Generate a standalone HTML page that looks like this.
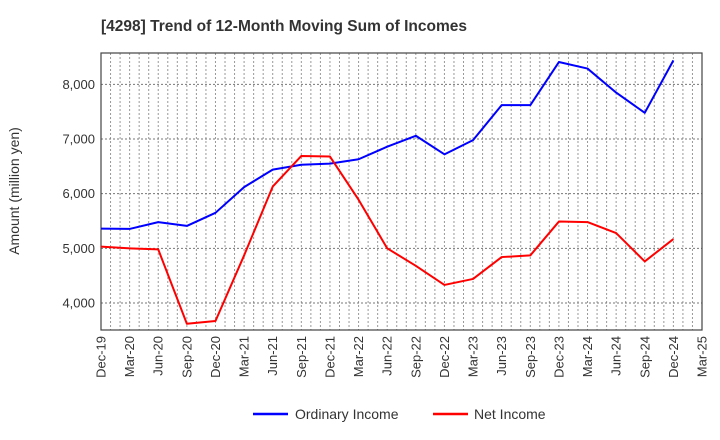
<!DOCTYPE html>
<html><head><meta charset="utf-8"><style>
body{margin:0;background:#fff;}
svg{display:block;font-family:"Liberation Sans",sans-serif;}
</style></head><body>
<svg id="chart" width="720" height="440">
<text x="101" y="31" font-size="15.5" font-weight="bold" fill="#333">[4298]  Trend of 12-Month Moving Sum of Incomes</text>
<text transform="translate(19,191) rotate(-90)" text-anchor="middle" font-size="14" fill="#333">Amount (million yen)</text>
<g id="grid"></g><g id="axes"></g><g id="series"></g>
<g>
<line x1="253" y1="414" x2="288" y2="414" stroke="#0000ff" stroke-width="2.5"/>
<text x="295" y="419" font-size="14" fill="#333">Ordinary Income</text>
<line x1="433" y1="414" x2="468" y2="414" stroke="#ff0000" stroke-width="2.5"/>
<text x="474" y="419" font-size="14" fill="#333">Net Income</text>
</g>
</svg>
<script>
const categories=["Dec-19","Mar-20","Jun-20","Sep-20","Dec-20","Mar-21","Jun-21","Sep-21","Dec-21","Mar-22","Jun-22","Sep-22","Dec-22","Mar-23","Jun-23","Sep-23","Dec-23","Mar-24","Jun-24","Sep-24","Dec-24","Mar-25"];
const ordinaryIncome=[5360,5355,5480,5410,5650,6120,6440,6530,6550,6630,6860,7060,6720,6980,7620,7620,8410,8290,7850,7480,8440];
const netIncome=[5030,5000,4980,3620,3670,4870,6130,6690,6680,5890,5000,4680,4330,4440,4840,4870,5490,5480,5280,4760,5170];
const yTicks=[4000,5000,6000,7000,8000];
const yTickLabels=["4,000","5,000","6,000","7,000","8,000"];
const L=101,R=702,T=53,B=330,yMin=3505,yMax=8575;
const ns="http://www.w3.org/2000/svg";
function xS(i){return L+(R-L)*i/(categories.length-1);}
function yS(v){return B-(v-yMin)/(yMax-yMin)*(B-T);}
function mk(tag,attrs,parent){const e=document.createElementNS(ns,tag);for(const k in attrs)e.setAttribute(k,attrs[k]);parent.appendChild(e);return e;}
const grid=document.getElementById('grid'),axes=document.getElementById('axes'),series=document.getElementById('series');
const months=(categories.length-1)*3;
for(let m=1;m<months;m++){const x=L+(R-L)*m/months;
 const g=mk('line',{x1:x,x2:x,y1:T,y2:B,stroke:'#999','stroke-width':1,'stroke-dasharray':'2,2'},grid);
 
 }
yTicks.forEach((v,i)=>{const y=yS(v);
 const g=mk('line',{x1:L,x2:R,y1:y,y2:y,stroke:'#777','stroke-width':1,'stroke-dasharray':'2,2'},grid);
 
 
 const t=mk('text',{x:L-6,y:y+4.5,'text-anchor':'end','font-size':13,fill:'#333'},axes);
 t.textContent=yTickLabels[i];
 
 });
const fr=mk('rect',{x:L,y:T,width:R-L,height:B-T,fill:'none',stroke:'#444','stroke-width':1.2},axes);


categories.forEach((c,i)=>{const x=xS(i);
 const t=mk('text',{transform:`translate(${x+4.5},${B+6}) rotate(-90)`,'text-anchor':'end','font-size':13,fill:'#333'},axes);
 t.textContent=c;
 
 });
function line(data,color,name){
 const p=mk('polyline',{points:data.map((v,i)=>xS(i)+','+yS(v)).join(' '),fill:'none',stroke:color,'stroke-width':2,'stroke-linejoin':'round'},series);
 
 }
line(ordinaryIncome,'#0000ff','ordinary-income-line');
line(netIncome,'#ff0000','net-income-line');
</script>
</body></html>
